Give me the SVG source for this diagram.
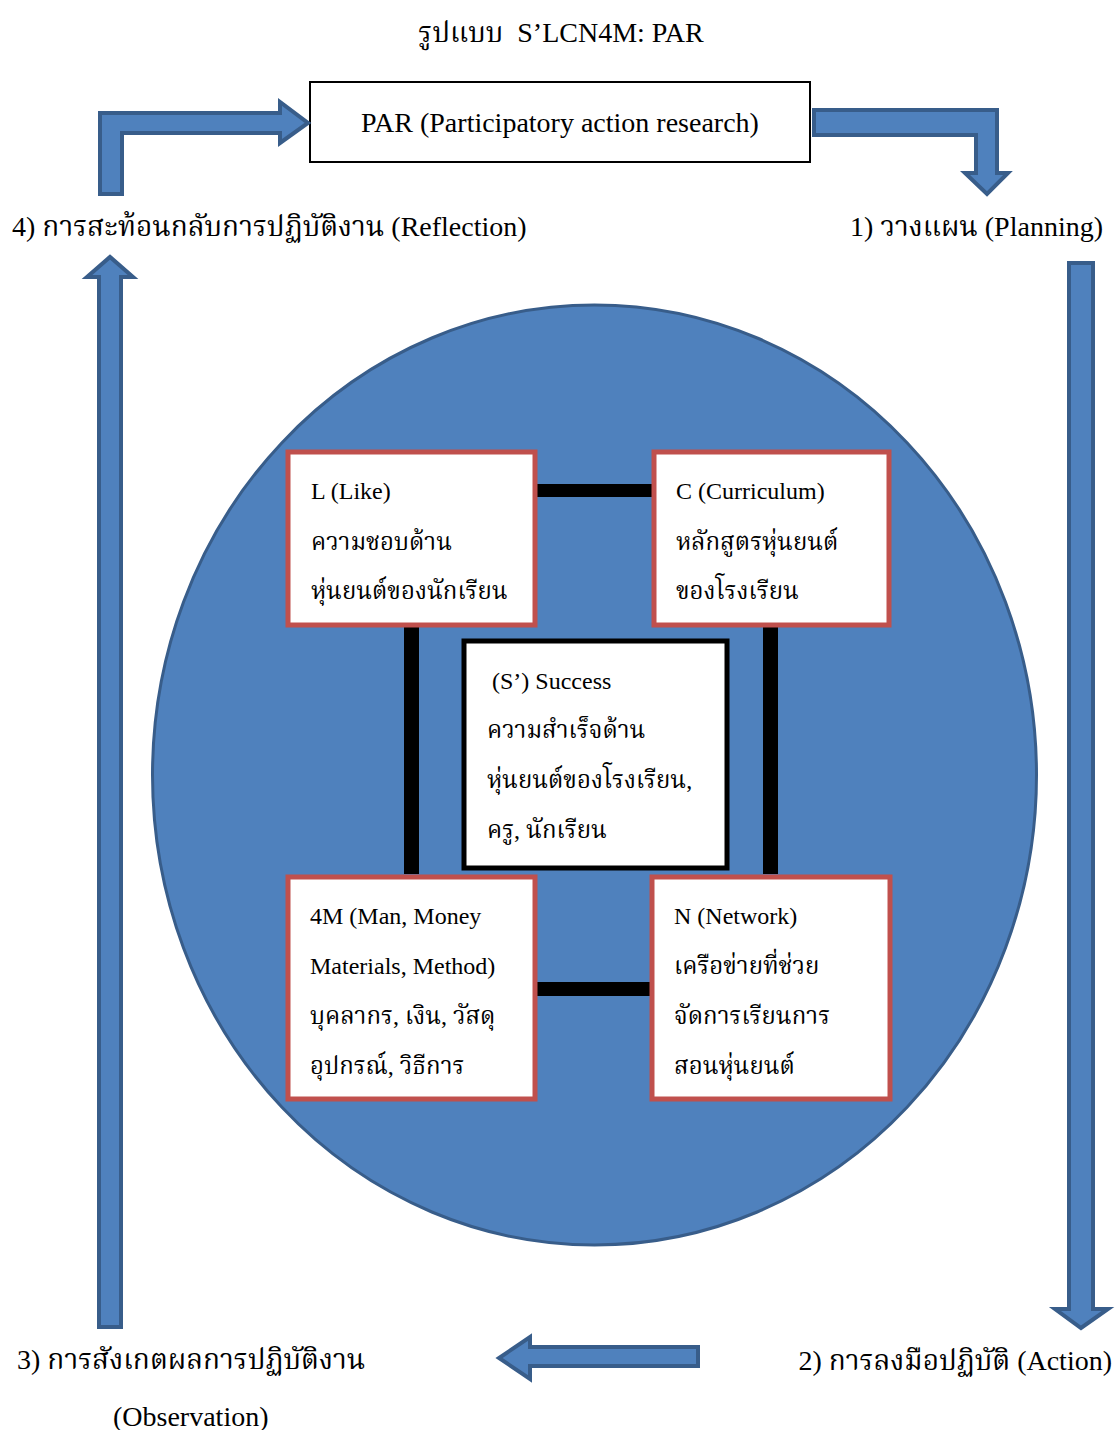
<svg xmlns="http://www.w3.org/2000/svg" width="1116" height="1430" viewBox="0 0 1116 1430">
  <style>
    text { font-family: "Liberation Serif", "Noto Serif Thai", "Noto Sans Thai", "Tlwg Typo", serif; fill: #000; }
    .big { font-size: 28px; }
    .small { font-size: 24px; }
    .flow { fill: #4F81BD; stroke: #385D8A; stroke-width: 4; stroke-linejoin: miter; }
    .node { fill: #fff; stroke: #C0504D; stroke-width: 5; }
    .core { fill: #fff; stroke: #000; stroke-width: 5; }
    .bar { fill: #000; }
  </style>

  <!-- title -->
  <text class="big" x="561" y="42" text-anchor="middle" xml:space="preserve">รูปแบบ  S’LCN4M: PAR</text>

  <!-- PAR box -->
  <g id="par">
    <rect x="310" y="82" width="500" height="80" fill="#fff" stroke="#000" stroke-width="2"/>
    <text class="big" x="560" y="132" text-anchor="middle">PAR (Participatory action research)</text>
  </g>

  <!-- cycle arrows -->
  <g id="cycle-arrows">
    <path class="flow" d="M100,194 L100,113 L280,113 L280,102 L308,123 L280,143 L280,133 L122,133 L122,194 Z"/>
    <path class="flow" d="M814,110 L997,110 L997,173 L1008,173 L987,194 L965,173 L976,173 L976,135 L814,135 Z"/>
    <path class="flow" d="M1069,263 L1093,263 L1093,1309 L1108,1309 L1081,1328 L1055,1309 L1069,1309 Z"/>
    <path class="flow" d="M698,1347 L530,1347 L530,1337 L499,1358 L530,1379 L530,1366 L698,1366 Z"/>
    <path class="flow" d="M99,1327 L99,277 L87,277 L110,257 L133,277 L121,277 L121,1327 Z"/>
  </g>

  <!-- cycle step labels -->
  <g id="step-labels">
    <text class="big" x="12" y="236">4) การสะท้อนกลับการปฏิบัติงาน (Reflection)</text>
    <text class="big" x="1103" y="236" text-anchor="end">1) วางแผน (Planning)</text>
    <text class="big" x="17" y="1369">3) การสังเกตผลการปฏิบัติงาน</text>
    <text class="big" x="113" y="1426">(Observation)</text>
    <text class="big" x="1112" y="1370" text-anchor="end">2) การลงมือปฏิบัติ (Action)</text>
  </g>

  <!-- background circle -->
  <ellipse cx="594.5" cy="775" rx="442" ry="470" fill="#4F81BD" stroke="#385D8A" stroke-width="3"/>

  <!-- links between the component boxes -->
  <g id="links">
    <rect class="bar" x="536" y="484" width="117" height="13"/>
    <rect class="bar" x="536" y="982" width="115" height="14"/>
    <rect class="bar" x="404" y="626" width="15" height="248"/>
    <rect class="bar" x="763" y="626" width="15" height="248"/>
  </g>

  <g id="like">
    <rect class="node" x="288" y="452" width="247" height="173"/>
    <text class="small" x="311" y="499">L (Like)</text>
    <text class="small" x="311" y="550">ความชอบด้าน</text>
    <text class="small" x="311" y="599">หุ่นยนต์ของนักเรียน</text>
  </g>

  <g id="curriculum">
    <rect class="node" x="654" y="452" width="235" height="173"/>
    <text class="small" x="676" y="499">C (Curriculum)</text>
    <text class="small" x="676" y="550">หลักสูตรหุ่นยนต์</text>
    <text class="small" x="676" y="599">ของโรงเรียน</text>
  </g>

  <g id="success">
    <rect class="core" x="464" y="641" width="263" height="227"/>
    <text class="small" x="492" y="689">(S’) Success</text>
    <text class="small" x="487" y="738">ความสำเร็จด้าน</text>
    <text class="small" x="487" y="788">หุ่นยนต์ของโรงเรียน,</text>
    <text class="small" x="487" y="838">ครู, นักเรียน</text>
  </g>

  <g id="resources">
    <rect class="node" x="288" y="877" width="247" height="222"/>
    <text class="small" x="310" y="924">4M (Man, Money</text>
    <text class="small" x="310" y="974">Materials, Method)</text>
    <text class="small" x="310" y="1024">บุคลากร, เงิน, วัสดุ</text>
    <text class="small" x="310" y="1074">อุปกรณ์, วิธีการ</text>
  </g>

  <g id="network">
    <rect class="node" x="652" y="877" width="238" height="222"/>
    <text class="small" x="674" y="924">N (Network)</text>
    <text class="small" x="674" y="974">เครือข่ายที่ช่วย</text>
    <text class="small" x="674" y="1024">จัดการเรียนการ</text>
    <text class="small" x="674" y="1074">สอนหุ่นยนต์</text>
  </g>
</svg>
